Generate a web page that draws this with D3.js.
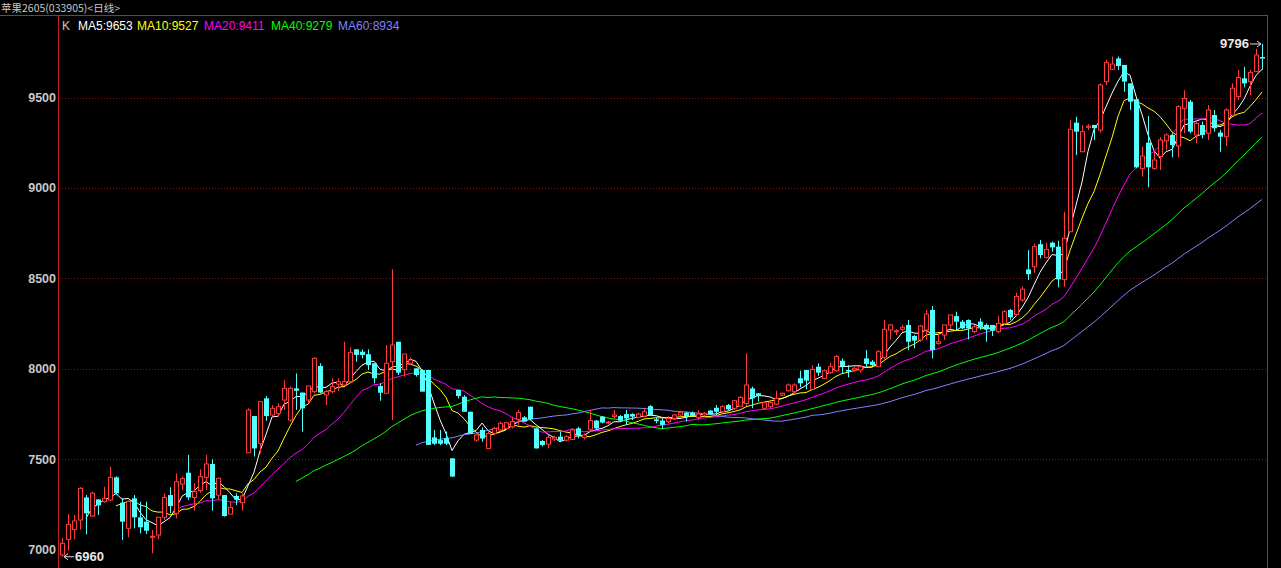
<!DOCTYPE html>
<html><head><meta charset="utf-8">
<script src="https://cdn.jsdelivr.net/npm/d3@7/dist/d3.min.js"></script>
<style>html,body{margin:0;padding:0;background:#000;overflow:hidden}</style>
</head><body>
<svg id="c" width="1281" height="568"></svg>
<script>
const title = "苹果2605(033905)<日线>";
const open = [6970,7056,7111,7163,7288,7185,7277,7264,7274,7399,7259,7117,7283,7178,7154,7067,7080,7178,7301,7200,
7362,7425,7288,7325,7399,7473,7301,7301,7196,7296,7259,7535,7738,7587,7836,7744,7753,7827,7716,7891,
7868,7827,7873,8015,7855,7873,7915,7910,7928,8107,8094,8080,8030,7904,7864,8039,8149,7996,8030,8002,
7993,7993,7620,7605,7615,7504,7882,7845,7762,7605,7661,7559,7642,7661,7670,7679,7720,7731,7790,7670,
7600,7583,7611,7624,7605,7609,7670,7620,7665,7713,7735,7702,7735,7738,7749,7749,7731,7738,7793,7720,
7713,7707,7725,7744,7757,7757,7731,7744,7768,7784,7762,7799,7781,7793,7808,7891,7864,7781,7790,7804,
7854,7878,7873,7947,7993,7886,8011,7947,7978,7989,8044,7993,7993,7993,8057,8039,8011,8063,8214,8205,
8218,8242,8181,8159,8214,8325,8140,8186,8242,8291,8260,8269,8205,8260,8242,8242,8205,8251,8325,8300,
8380,8549,8564,8689,8616,8697,8675,8494,8758,9361,9200,9335,9348,9320,9588,9656,9716,9680,9578,9490,
9108,9250,9108,9173,9261,9293,9232,9440,9477,9293,9348,9302,9403,9306,9283,9403,9505,9606,9588,9643,9724];
const high = [7062,7196,7191,7345,7301,7320,7277,7347,7458,7405,7283,7270,7301,7264,7264,7108,7180,7311,7344,7421,
7403,7523,7366,7443,7523,7499,7394,7301,7264,7311,7311,7781,7738,7818,7849,7799,7809,7937,7901,7974,
7868,7904,8063,8030,7882,7947,7947,8149,8118,8107,8107,8107,8030,7919,8131,8550,8149,8081,8063,8002,
7996,7993,7661,7661,7652,7504,7882,7854,7762,7642,7676,7652,7679,7707,7707,7735,7771,7738,7790,7670,
7605,7633,7630,7652,7633,7670,7679,7642,7772,7716,7738,7713,7772,7744,7772,7753,7757,7781,7799,7731,
7725,7738,7749,7768,7762,7762,7771,7760,7772,7799,7799,7805,7827,7849,8085,7901,7864,7818,7818,7878,
7868,7919,7919,7989,7993,8020,8030,7996,8033,8076,8057,8020,8011,8015,8103,8048,8103,8269,8247,8218,
8242,8269,8186,8242,8325,8347,8196,8242,8297,8315,8269,8273,8242,8279,8251,8242,8291,8325,8330,8420,
8455,8656,8693,8712,8697,8703,8708,8868,9375,9394,9348,9353,9348,9578,9708,9726,9726,9680,9578,9490,
9228,9398,9200,9280,9302,9302,9458,9540,9486,9366,9366,9458,9431,9320,9440,9578,9652,9670,9652,9770,9796];
const low = [6960,6993,7056,7111,7084,7180,7191,7260,7270,7301,7052,7067,7117,7089,7086,6979,7056,7163,7200,7172,
7329,7274,7215,7314,7329,7215,7274,7182,7196,7246,7215,7535,7514,7532,7712,7735,7735,7772,7707,7772,
7652,7809,7864,7864,7799,7864,7878,7905,7928,8039,8057,7993,7919,7823,7864,7716,7965,7956,8020,7956,
7873,7578,7578,7578,7578,7403,7836,7762,7639,7596,7596,7559,7633,7652,7661,7670,7689,7707,7716,7559,
7569,7559,7600,7596,7596,7605,7615,7609,7652,7665,7698,7695,7725,7707,7689,7716,7725,7735,7738,7698,
7665,7698,7716,7735,7707,7735,7716,7735,7744,7744,7753,7771,7771,7790,7793,7781,7818,7771,7781,7799,
7849,7873,7864,7897,7886,7882,7960,7941,7971,7984,7974,7952,7984,7978,8011,8015,8011,8052,8162,8186,
8205,8103,8113,8149,8159,8057,8131,8159,8218,8214,8218,8162,8196,8214,8149,8181,8196,8242,8270,8290,
8370,8490,8531,8610,8610,8647,8450,8453,8758,9182,9200,9320,9265,9305,9569,9652,9652,9532,9431,9108,
9062,9003,9099,9099,9210,9169,9169,9302,9302,9246,9274,9265,9311,9200,9232,9403,9486,9556,9514,9643,9652];
const close = [7034,7139,7158,7338,7200,7311,7244,7283,7399,7311,7154,7265,7178,7123,7104,7073,7178,7288,7240,7375,
7392,7288,7320,7403,7473,7283,7394,7185,7233,7277,7296,7771,7559,7818,7738,7781,7790,7891,7891,7878,
7781,7904,8057,7868,7873,7901,7928,7928,8089,8076,8076,8020,7947,7867,8030,8131,7978,8081,8048,7965,
7873,7578,7585,7585,7585,7403,7849,7762,7639,7633,7614,7642,7670,7698,7701,7707,7757,7707,7720,7559,
7578,7620,7620,7602,7624,7661,7633,7633,7713,7670,7702,7705,7744,7713,7725,7735,7749,7762,7744,7710,
7689,7725,7744,7757,7738,7740,7749,7753,7749,7762,7790,7775,7823,7841,7910,7836,7849,7812,7812,7836,
7864,7910,7910,7919,7934,7996,7978,7989,8011,8067,8015,7984,8002,8011,8026,8020,8094,8218,8242,8210,
8229,8149,8155,8236,8302,8103,8149,8242,8297,8260,8223,8223,8232,8229,8218,8210,8251,8315,8284,8400,
8440,8523,8675,8629,8660,8671,8494,8721,9324,9311,9311,9342,9330,9569,9693,9685,9674,9588,9477,9114,
9176,9114,9154,9265,9293,9237,9449,9495,9311,9357,9293,9431,9330,9283,9431,9551,9611,9578,9638,9735,9716];
const yTicks = [7000,7500,8000,8500,9000,9500];
const gridTicks = [7500,8000,8500,9000,9500];
const maPeriods = [5,10,20,40,60];
const maNames = ["MA5","MA10","MA20","MA40","MA60"];
const maValues = [9653,9527,9411,9279,8934];
const maColors = ["#ffffff","#ffff00","#ff00ff","#00ff00","#8080ff"];
const maLabelX = [78,137,204,271,338];
const minLabel = 6960, maxLabel = 9796;

const svg = d3.select("#c");
const n = close.length;
const x = d3.scaleLinear().domain([0, n-1]).range([62, 1262]);
const y = d3.scaleLinear().domain([7000, 9500]).range([549.5, 97.5]);
const red = "#ff3c3c", cyan = "#54ffff", border = "#c41e1e";

// header
svg.append("text").attr("x",1).attr("y",12).attr("fill","#c8c8c8")
  .style("font","10.5px 'Noto Sans CJK SC', sans-serif").text(title);
svg.append("line").attr("x1",0).attr("x2",1267).attr("y1",15.5).attr("y2",15.5).attr("stroke",border);
svg.append("line").attr("x1",58.5).attr("x2",58.5).attr("y1",15).attr("y2",568).attr("stroke",border);
svg.append("line").attr("x1",1267.5).attr("x2",1267.5).attr("y1",15).attr("y2",568).attr("stroke",border);
svg.append("text").attr("x",62).attr("y",30).attr("fill","#c8c8c8")
  .style("font","12px 'Liberation Sans', Arial, sans-serif").text("K");
maNames.forEach((nm,k)=>{
  svg.append("text").attr("x",maLabelX[k]).attr("y",30).attr("fill",maColors[k])
    .style("font","12px 'Liberation Sans', Arial, sans-serif").text(nm+":"+maValues[k]);
});

// grid
svg.append("g").selectAll("line").data(gridTicks).join("line")
  .attr("x1",59).attr("x2",1267).attr("y1",d=>Math.round(y(d))+0.5).attr("y2",d=>Math.round(y(d))+0.5)
  .attr("stroke","#8a1010").attr("stroke-dasharray","1,2");

// y axis labels
const yAxis = d3.axisLeft(y).tickValues(yTicks).tickSize(0).tickPadding(0).tickFormat(d3.format("d"));
const ga = svg.append("g").attr("transform","translate(56,0)").call(yAxis);
ga.select(".domain").remove();
ga.selectAll("text").attr("fill","#c8c8c8").style("font","bold 12.5px 'Liberation Sans', Arial, sans-serif");

// MAs
const ma = (p)=> close.map((c,i)=> i < p-1 ? null : d3.mean(close.slice(i-p+1,i+1)));
maPeriods.forEach((p,k)=>{
  const vals = ma(p);
  const line = d3.line().defined(d=>d!=null).x((d,i)=>x(i)).y(d=>y(d));
  svg.append("path").datum(vals).attr("d",line).attr("fill","none")
    .attr("stroke",maColors[k]).attr("stroke-width",1);
});

// candles
const g = svg.append("g");
for (let i=0;i<n;i++){
  const cx = Math.round(x(i))+0.5;
  const up = close[i] >= open[i];
  const col = up ? red : cyan;
  const top = y(Math.max(open[i],close[i])), bot = y(Math.min(open[i],close[i]));
  if (up) {
    g.append("line").attr("x1",cx).attr("x2",cx).attr("y1",y(high[i])).attr("y2",top).attr("stroke",col);
    g.append("line").attr("x1",cx).attr("x2",cx).attr("y1",bot).attr("y2",y(low[i])).attr("stroke",col);
    g.append("rect").attr("x",cx-2).attr("y",top).attr("width",4).attr("height",Math.max(bot-top,1))
      .attr("fill","#000").attr("stroke",col).attr("stroke-width",1);
  } else {
    g.append("line").attr("x1",cx).attr("x2",cx).attr("y1",y(high[i])).attr("y2",y(low[i])).attr("stroke",col);
    g.append("rect").attr("x",cx-2.5).attr("y",top).attr("width",5).attr("height",Math.max(bot-top,1.5))
      .attr("fill",col);
  }
}

// min / max labels
const iMin = d3.minIndex(low), iMax = d3.maxIndex(high);
const yMin = y(minLabel), yMax = y(maxLabel);
const lf = "bold 13px 'Liberation Sans', Arial, sans-serif";
svg.append("line").attr("x1",x(iMin)+2).attr("x2",x(iMin)+12).attr("y1",yMin).attr("y2",yMin).attr("stroke","#ddd");
svg.append("path").attr("d",`M${x(iMin)+2},${yMin} l4,-3 M${x(iMin)+2},${yMin} l4,3`).attr("stroke","#ddd").attr("fill","none");
svg.append("text").attr("x",x(iMin)+13).attr("y",yMin+4.5).attr("fill","#e8e8e8").style("font",lf).text(minLabel);
svg.append("line").attr("x1",x(iMax)-12).attr("x2",x(iMax)-1).attr("y1",yMax).attr("y2",yMax).attr("stroke","#ddd");
svg.append("path").attr("d",`M${x(iMax)-1},${yMax} l-4,-3 M${x(iMax)-1},${yMax} l-4,3`).attr("stroke","#ddd").attr("fill","none");
svg.append("text").attr("x",x(iMax)-13).attr("y",yMax+4.5).attr("text-anchor","end").attr("fill","#e8e8e8").style("font",lf).text(maxLabel);
</script>
</body></html>
